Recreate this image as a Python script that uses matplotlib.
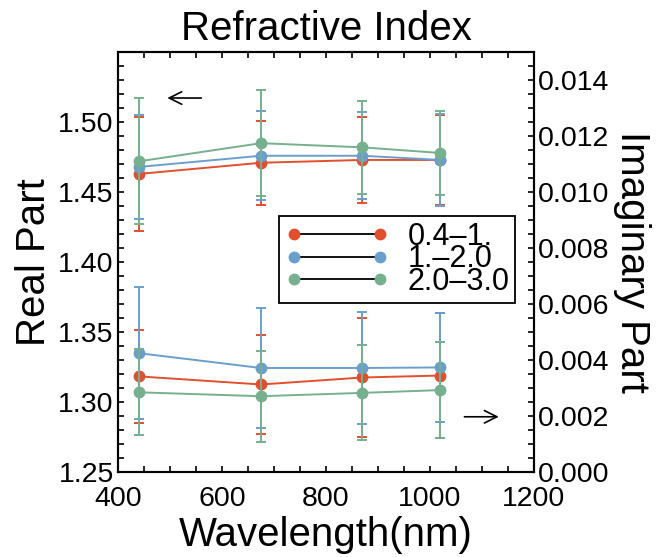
import matplotlib.pyplot as plt
from matplotlib.lines import Line2D
from matplotlib.ticker import MultipleLocator, FixedLocator

plt.rcParams['font.family'] = ['Liberation Sans', 'DejaVu Sans']

# wavelengths (nm)
wl = [440, 675, 870, 1020]
labels = ["0.4\u20131.", "1.\u20132.0", "2.0\u20133.0"]
colors = ["#E0502F", "#6A9FCC", "#76B08E"]

# real part and its errors, one row per size bin
real = [
    [1.463, 1.471, 1.473, 1.473],
    [1.468, 1.476, 1.476, 1.473],
    [1.472, 1.485, 1.482, 1.478],
]
real_err = [
    [0.041, 0.030, 0.031, 0.032],
    [0.037, 0.032, 0.031, 0.033],
    [0.045, 0.038, 0.033, 0.030],
]

# imaginary part and its errors
imag = [
    [0.00341, 0.00312, 0.00337, 0.00344],
    [0.00424, 0.00371, 0.00371, 0.00373],
    [0.00284, 0.00270, 0.00282, 0.00292],
]
imag_err = [
    [0.00167, 0.00177, 0.00213, 0.00225],
    [0.00235, 0.00216, 0.00199, 0.00195],
    [0.00154, 0.00162, 0.00170, 0.00172],
]

real_ticks = [1.25, 1.30, 1.35, 1.40, 1.45, 1.50]

fig = plt.figure(figsize=(6.65, 5.57), dpi=100)
ax = fig.add_axes([0.1774, 0.1531, 0.6256, 0.753])
ax2 = ax.twinx()

order = [0, 2, 1]  # blue drawn last
for i in order:
    ax.errorbar(wl, real[i], yerr=real_err[i], color=colors[i], marker='o', ms=7.5,
                lw=1.4, elinewidth=1.4, capsize=3.5, capthick=1.4, zorder=3 + i)
    ax2.errorbar(wl, imag[i], yerr=imag_err[i], color=colors[i], marker='o', ms=7.5,
                 lw=1.4, elinewidth=1.4, capsize=3.5, capthick=1.4, zorder=3 + i)

ax.set_xlim(400, 1200)
ax.set_ylim(1.25, 1.55)
ax2.set_ylim(0, 0.015)

ax.xaxis.set_major_locator(MultipleLocator(200))
ax.xaxis.set_minor_locator(MultipleLocator(50))
ax.yaxis.set_major_locator(FixedLocator(real_ticks))
ax.yaxis.set_minor_locator(MultipleLocator(0.01))
ax2.yaxis.set_major_locator(MultipleLocator(0.002))
ax2.yaxis.set_minor_locator(MultipleLocator(0.0005))
ax.yaxis.set_major_formatter(plt.FormatStrFormatter('%.2f'))
ax2.yaxis.set_major_formatter(plt.FormatStrFormatter('%.3f'))

ax.tick_params(axis='x', which='both', direction='in', top=True, length=4, width=1.2,
               labelsize=20.5, pad=10)
ax.tick_params(axis='y', which='both', direction='in', length=4, width=1.2,
               labelsize=20.5, pad=3)
ax2.tick_params(axis='y', which='both', direction='in', length=4, width=1.2,
                labelsize=20.5, pad=3)
for a in (ax, ax2):
    for s in a.spines.values():
        s.set_linewidth(1.5)

ax.set_title("Refractive Index", fontsize=29, pad=9)
ax.set_xlabel("Wavelength(nm)", fontsize=29, labelpad=3)
ax.set_ylabel("Real Part", fontsize=29, labelpad=4)
ax2.set_ylabel("Imaginary Part", fontsize=29, rotation=270, labelpad=30)

# arrows pointing to the relevant axis
arrow = dict(arrowstyle='->,head_length=0.9,head_width=0.45', lw=1.2, color='black')
ax.annotate("", xy=(0.112, 0.891), xytext=(0.207, 0.891), xycoords='axes fraction',
            arrowprops=arrow)
ax.annotate("", xy=(0.922, 0.131), xytext=(0.826, 0.131), xycoords='axes fraction',
            arrowprops=arrow)

handles = [Line2D([], [], color='black', lw=1.3, marker='o', ms=7.5,
                  markerfacecolor=c, markeredgecolor=c) for c in colors]
leg = ax2.legend(handles, labels, loc='upper left', bbox_to_anchor=(0.387, 0.61),
                 borderaxespad=0, numpoints=2, fontsize=22, handlelength=3.4,
                 labelspacing=-0.25, handletextpad=0.6, borderpad=0.2,
                 fancybox=False, framealpha=1, edgecolor='black')
leg.get_frame().set_linewidth(1.3)

fig.savefig("out.png", dpi=100)
